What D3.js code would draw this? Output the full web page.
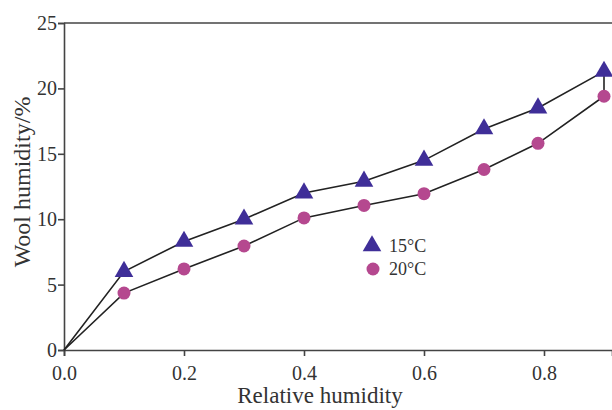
<!DOCTYPE html>
<html>
<head>
<meta charset="utf-8">
<script src="https://cdn.jsdelivr.net/npm/d3@7"></script>
<style>
  body { margin: 0; background: #fff; }
  svg { display: block; }
  .axis text { font-family: "Liberation Serif", "Times New Roman", serif; font-size: 20px; fill: #333; }
  .axis path, .axis line { stroke: #444; stroke-width: 1.6; }
</style>
</head>
<body>
<div id="chart"></div>
<script>
// dados
let rh = [0, 0.1, 0.2, 0.3, 0.4, 0.5, 0.6, 0.7, 0.79, 0.9];
let wool15 = [0, 6.0, 8.3, 10.0, 12.0, 12.9, 14.5, 16.9, 18.5, 21.3];
let wool20 = [0, 4.35, 6.2, 7.95, 10.1, 11.05, 11.95, 13.8, 15.8, 19.4];
let xTicks = [0, 0.2, 0.4, 0.6, 0.8];
let yTicks = [0, 5, 10, 15, 20, 25];
let legendNames = ['15\u00b0C', '20\u00b0C'];

let width = 612;
let height = 410;
let serif = '"Liberation Serif", "Times New Roman", serif';

let svg = d3.select('#chart').append('svg').attr('width', width).attr('height', height);

let x = d3.scaleLinear().domain([0, 548 / 600]).range([64, 612]);
let y = d3.scaleLinear().domain([0, 25]).range([350, 23]);

let xAxis = d3.axisBottom(x).tickValues(xTicks).tickFormat(d3.format('.1f')).tickSizeOuter(0).tickSize(6).tickPadding(10);
let yAxis = d3.axisLeft(y).tickValues(yTicks).tickSizeOuter(0).tickSize(6).tickPadding(1);

svg.append('g').attr('class', 'axis x').attr('transform', 'translate(0,' + y(0) + ')').call(xAxis);
svg.append('g').attr('class', 'axis y').attr('transform', 'translate(' + x(0) + ',0)').call(yAxis);

// linha de cima
svg.append('line')
   .attr('x1', x(0)).attr('x2', width)
   .attr('y1', y(25)).attr('y2', y(25))
   .attr('stroke', '#444').attr('stroke-width', 1.6);

let line = d3.line()
             .x(function (d, i) { return x(rh[i]); })
             .y(function (d) { return y(d); });

svg.append('path').attr('fill', 'none').attr('stroke', '#222').attr('stroke-width', 1.6).attr('d', line(wool15));
svg.append('path').attr('fill', 'none').attr('stroke', '#222').attr('stroke-width', 1.6).attr('d', line(wool20));

// ligacao vertical no ultimo ponto
let last = rh.length - 1;
svg.append('line')
   .attr('x1', x(rh[last])).attr('x2', x(rh[last]))
   .attr('y1', y(wool15[last])).attr('y2', y(wool20[last]))
   .attr('stroke', '#222').attr('stroke-width', 1.6);

let tri = d3.symbol().type(d3.symbolTriangle).size(150);

svg.selectAll('path.tri')
   .data(wool15.slice(1))
   .enter().append('path')
           .attr('class', 'tri')
           .attr('d', tri)
           .attr('transform', function (d, i) { return 'translate(' + x(rh[i + 1]) + ',' + y(d) + ')'; })
           .attr('fill', '#3f2e98');

svg.selectAll('circle.dot')
   .data(wool20.slice(1))
   .enter().append('circle')
           .attr('class', 'dot')
           .attr('cx', function (d, i) { return x(rh[i + 1]); })
           .attr('cy', function (d) { return y(d); })
           .attr('r', 6.5)
           .attr('fill', '#b5488f');

// legenda
let leg = svg.append('g').attr('transform', 'translate(372,246)');
leg.append('path').attr('d', tri).attr('fill', '#3f2e98');
leg.append('circle').attr('cx', 1).attr('cy', 23).attr('r', 6.5).attr('fill', '#b5488f');
leg.selectAll('text')
   .data(legendNames)
   .enter().append('text')
           .attr('x', 17)
           .attr('y', function (d, i) { return 6 + i * 23; })
           .attr('font-family', serif)
           .attr('font-size', 18)
           .attr('fill', '#333')
           .text(function (d) { return d; });

// titulos dos eixos
svg.append('text')
   .attr('x', 320).attr('y', 403)
   .attr('text-anchor', 'middle')
   .attr('font-family', serif)
   .attr('font-size', 23)
   .attr('fill', '#333')
   .text('Relative humidity');

svg.append('text')
   .attr('transform', 'translate(30,182) rotate(-90)')
   .attr('text-anchor', 'middle')
   .attr('font-family', serif)
   .attr('font-size', 24)
   .attr('fill', '#333')
   .text('Wool humidity/%');
</script>
</body>
</html>
